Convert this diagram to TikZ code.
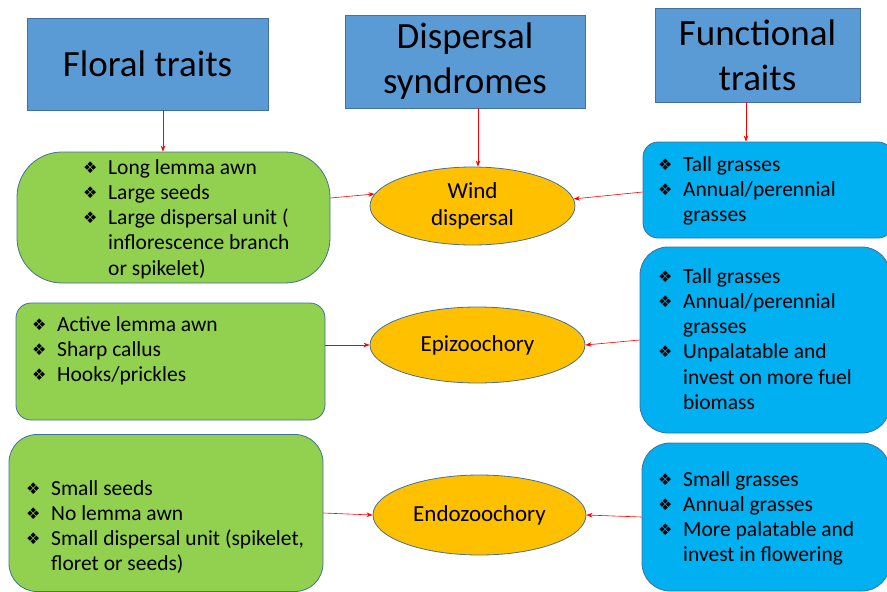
\documentclass[tikz,border=0pt]{standalone}
\usepackage{fontspec}
\setmainfont{Carlito}
\newfontfamily\djv{DejaVu Sans}
\usetikzlibrary{shapes.geometric,arrows.meta}
\definecolor{tblue}{HTML}{5B9BD5}
\definecolor{bord}{HTML}{41719C}
\definecolor{lgreen}{HTML}{92D050}
\definecolor{orng}{HTML}{FFC000}
\definecolor{cyanb}{HTML}{00B0F0}
\newcommand{\bul}{\makebox[25pt][l]{\raisebox{1pt}{\djv\fontsize{16}{16}\selectfont ❖}}}
\newcommand{\cont}{\hspace*{25pt}}
\tikzset{
  titlebox/.style={draw=bord, fill=tblue, line width=0.8pt, inner sep=0pt, align=center,
     font=\fontsize{37}{45}\selectfont},
  gbox/.style={draw=bord, fill=lgreen, line width=0.8pt, inner sep=0pt},
  bbox/.style={draw=bord, fill=cyanb, line width=0.8pt, inner sep=0pt},
  syn/.style={ellipse, draw=bord, fill=orng, line width=0.8pt, inner sep=0pt, align=center,
     font=\fontsize{23}{27}\selectfont},
  lst/.style={anchor=base west, inner sep=0pt},
  conn/.style={red, line width=0.6pt, -{Stealth[length=6pt,width=4.5pt]}}
}
\newenvironment{blist}{\fontsize{21.5}{25.3}\selectfont\begin{tabular}[t]{@{}l@{}}}{\end{tabular}}
\begin{document}
\begin{tikzpicture}[x=1pt,y=-1pt]
\useasboundingbox (0,0) rectangle (887,592);
\clip (0,0) rectangle (887,592);
% title boxes
\node[titlebox, minimum width=241pt, minimum height=92pt] (fl) at (147.5,64) {Floral traits};
\node[titlebox, minimum width=240pt, minimum height=93pt] (ds) at (465,61.5) {Dispersal\\syndromes};
\node[titlebox, minimum width=205pt, minimum height=94pt] (ft) at (757.5,55) {Functional\\traits};
% green boxes
\node[gbox, rounded corners=45pt, minimum width=313pt, minimum height=131pt] (g1) at (173.5,217.5) {};
\node[gbox, rounded corners=15pt, minimum width=309pt, minimum height=117pt] (g2) at (170.5,361.5) {};
\node[gbox, rounded corners=28pt, minimum width=314pt, minimum height=157pt] (g3) at (166,513) {};
% blue boxes
\node[bbox, rounded corners=15pt, minimum width=250pt, minimum height=96pt] (b1) at (768,190) {};
\node[bbox, rounded corners=28pt, minimum width=250pt, minimum height=186pt] (b2) at (765,340) {};
\node[bbox, rounded corners=28pt, minimum width=248pt, minimum height=148pt] (b3) at (766,517) {};
% ellipses
\node[syn, minimum width=205pt, minimum height=78pt] (w) at (472.5,206) {Wind\\dispersal};
\node[syn, minimum width=215pt, minimum height=76pt] (epi) at (477.5,345) {Epizoochory};
\node[syn, minimum width=213pt, minimum height=80pt] (endo) at (479.5,515) {Endozoochory};
% lists
\node[lst] (t1) at (83,174) {\begin{blist}
\bul Long lemma awn\\
\bul Large seeds\\
\bul Large dispersal unit (\\
\cont inflorescence branch\\
\cont or spikelet)
\end{blist}};
\node[lst] (t2) at (658,171) {\begin{blist}
\bul Tall grasses\\
\bul Annual/perennial\\
\cont grasses
\end{blist}};
\node[lst] (t3) at (32,331) {\begin{blist}
\bul Active lemma awn\\
\bul Sharp callus\\
\bul Hooks/prickles
\end{blist}};
\node[lst] (t4) at (658,283) {\begin{blist}
\bul Tall grasses\\
\bul Annual/perennial\\
\cont grasses\\
\bul Unpalatable and\\
\cont invest on more fuel\\
\cont biomass
\end{blist}};
\node[lst] (t5) at (26,495) {\begin{blist}
\bul Small seeds\\
\bul No lemma awn\\
\bul Small dispersal unit (spikelet,\\
\cont floret or seeds)
\end{blist}};
\node[lst] (t6) at (658,486) {\begin{blist}
\bul Small grasses\\
\bul Annual grasses\\
\bul More palatable and\\
\cont invest in flowering
\end{blist}};
% connectors
\draw[conn] ([xshift=15.5pt]fl.south) -- ([xshift=15.5pt]fl.south |- g1.north);
\draw[conn] ([xshift=13pt]ds.south) -- ([xshift=13pt]ds.south |- w.north);
\draw[conn] ([xshift=-11.5pt]ft.south) -- ([xshift=-11.5pt]ft.south |- b1.north);
\draw[conn] ([yshift=19.5pt]g1.east) -- (w.173);
\draw[conn] ([yshift=-2pt]b1.west) -- (w.4);
\draw[conn] (g2.east |- epi.west) -- (epi.west);
\draw[conn] ([yshift=0pt]b2.west) -- (epi.east);
\draw[conn] (g3.east) -- (endo.west);
\draw[conn] (b3.west) -- (endo.east);
\end{tikzpicture}
\end{document}
